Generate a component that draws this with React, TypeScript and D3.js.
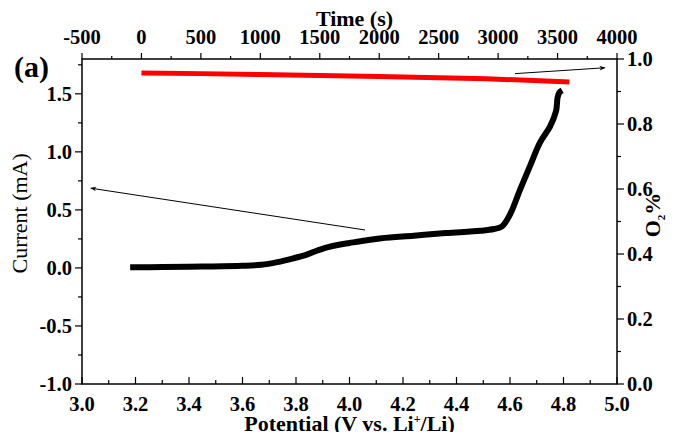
import React from "react";
import * as d3 from "d3";

// black curve: current vs potential (bottom / left axes)
const potential = [3.18, 3.3, 3.45, 3.6, 3.67, 3.73, 3.79, 3.84, 3.88, 3.92, 3.96, 4.0, 4.06, 4.12, 4.24, 4.36, 4.49, 4.54, 4.569, 4.6, 4.637, 4.675, 4.712, 4.75, 4.772, 4.775, 4.778, 4.784, 4.795];
const current = [0.005, 0.008, 0.012, 0.018, 0.027, 0.05, 0.083, 0.115, 0.15, 0.18, 0.2, 0.215, 0.237, 0.256, 0.278, 0.3, 0.32, 0.335, 0.356, 0.46, 0.67, 0.88, 1.08, 1.22, 1.35, 1.4, 1.47, 1.51, 1.53];

// red line: O2 % vs time (top / right axes)
const time = [0, 500, 1000, 1500, 2000, 2500, 2900, 3300, 3600];
const o2 = [0.957, 0.955, 0.952, 0.949, 0.946, 0.942, 0.939, 0.934, 0.929];

const potentialTicks = [3.0, 3.2, 3.4, 3.6, 3.8, 4.0, 4.2, 4.4, 4.6, 4.8, 5.0];
const currentTicks = [-1.0, -0.5, 0.0, 0.5, 1.0, 1.5];
const timeTicks = [-500, 0, 500, 1000, 1500, 2000, 2500, 3000, 3500, 4000];
const o2Ticks = [0.0, 0.2, 0.4, 0.6, 0.8, 1.0];

const W = 675;
const H = 432;
const margin = { top: 59, right: 58, bottom: 48, left: 82 };
const font = "'Liberation Serif', 'Times New Roman', serif";

const App = () => {
  const x = d3.scaleLinear().domain([3.0, 5.0]).range([margin.left, W - margin.right]);
  const y = d3.scaleLinear().domain([-1.0, 1.8]).range([H - margin.bottom, margin.top]);
  const xt = d3.scaleLinear().domain([-500, 4000]).range([margin.left, W - margin.right]);
  const yr = d3.scaleLinear().domain([0, 1]).range([H - margin.bottom, margin.top]);

  const x0 = margin.left, x1 = W - margin.right;
  const y0 = H - margin.bottom, y1 = margin.top;

  const black = d3.line<number>()
    .x((d, i) => x(potential[i]))
    .y(d => y(d))
    .curve(d3.curveCatmullRom)(current);
  const red = d3.line<number>()
    .x((d, i) => xt(time[i]))
    .y(d => yr(d))(o2);

  const minor = (a: number, b: number, step: number) => d3.range(a, b + step / 2, step);

  const lbl = { fontFamily: font, fontWeight: "bold", fontSize: 20.5, fill: "#000" } as const;
  const ttl = { fontFamily: font, fontWeight: "bold", fontSize: 22, fill: "#000" } as const;

  return (
    <svg width={W} height={H} style={{ position: "absolute", left: 0, top: 0, background: "#fff" }}>
      <defs>
        <marker id="ah" viewBox="0 0 10 10" refX="9" refY="5" markerWidth="9" markerHeight="6" orient="auto">
          <path d="M0,1 L10,5 L0,9 L3,5 Z" fill="#000" />
        </marker>
      </defs>

      {/* frame */}
      <rect x={x0} y={y1} width={x1 - x0} height={y0 - y1} fill="none" stroke="#000" strokeWidth={1.5} />

      {/* bottom ticks (inward) */}
      {minor(3.0, 5.0, 0.1).map((v, i) => (
        <line key={"bx" + i} x1={x(v)} x2={x(v)} y1={y0} y2={y0 - (i % 2 === 0 ? 7 : 4)} stroke="#000" strokeWidth={1.2} />
      ))}
      {potentialTicks.map(v => (
        <text key={"bl" + v} x={x(v)} y={y0 + 27} textAnchor="middle" {...lbl}>{v.toFixed(1)}</text>
      ))}

      {/* top ticks (outward) */}
      {minor(-500, 4000, 250).map((v, i) => (
        <line key={"tx" + i} x1={xt(v)} x2={xt(v)} y1={y1} y2={y1 - (i % 2 === 0 ? 6 : 3)} stroke="#000" strokeWidth={1.2} />
      ))}
      {timeTicks.map(v => (
        <text key={"tl" + v} x={xt(v)} y={y1 - 15} textAnchor="middle" {...lbl}>{v}</text>
      ))}

      {/* left ticks (outward) */}
      {minor(-1.0, 1.75, 0.25).map((v, i) => (
        <line key={"ly" + i} x1={x0} x2={x0 - (i % 2 === 0 ? 7 : 4)} y1={y(v)} y2={y(v)} stroke="#000" strokeWidth={1.2} />
      ))}
      {currentTicks.map(v => (
        <text key={"ll" + v} x={x0 - 10} y={y(v) + 7} textAnchor="end" {...lbl}>{v.toFixed(1)}</text>
      ))}

      {/* right ticks (outward) */}
      {minor(0, 1, 0.1).map((v, i) => (
        <line key={"ry" + i} x1={x1} x2={x1 + (i % 2 === 0 ? 7 : 4)} y1={yr(v)} y2={yr(v)} stroke="#000" strokeWidth={1.2} />
      ))}
      {o2Ticks.map(v => (
        <text key={"rl" + v} x={x1 + 10} y={yr(v) + 7} textAnchor="start" {...lbl}>{v.toFixed(1)}</text>
      ))}

      {/* axis titles */}
      <text x={(x0 + x1) / 2} y={H - 1} textAnchor="middle" {...ttl}>
        Potential (V vs. Li<tspan dy={-8} fontSize={12}>+</tspan><tspan dy={8}>/Li)</tspan>
      </text>
      <text x={(x0 + x1) / 2 + 5} y={26} textAnchor="middle" {...ttl}>Time (s)</text>
      <text transform={`translate(27,${y(0.47)}) rotate(-90)`} textAnchor="middle" fontFamily={font} fontSize={22}>Current (mA)</text>
      <text transform={`translate(660,${yr(0.52)}) rotate(-90)`} textAnchor="middle" {...ttl}>
        O<tspan dy={5} fontSize={11}>2</tspan><tspan dy={-5}>%</tspan>
      </text>
      <text x={14} y={77} fontFamily={font} fontWeight="bold" fontSize={30}>(a)</text>

      {/* data */}
      <path d={red ?? ""} fill="none" stroke="#ff0000" strokeWidth={5} />
      <path d={black ?? ""} fill="none" stroke="#000" strokeWidth={6} strokeLinejoin="round" />

      {/* arrows */}
      <line x1={x(4.058)} y1={y(0.327)} x2={x(3.033)} y2={y(0.687)} stroke="#000" strokeWidth={1} markerEnd="url(#ah)" />
      <line x1={xt(3142)} y1={yr(0.955)} x2={xt(3898)} y2={yr(0.973)} stroke="#000" strokeWidth={1} markerEnd="url(#ah)" />
    </svg>
  );
};

export default App;
